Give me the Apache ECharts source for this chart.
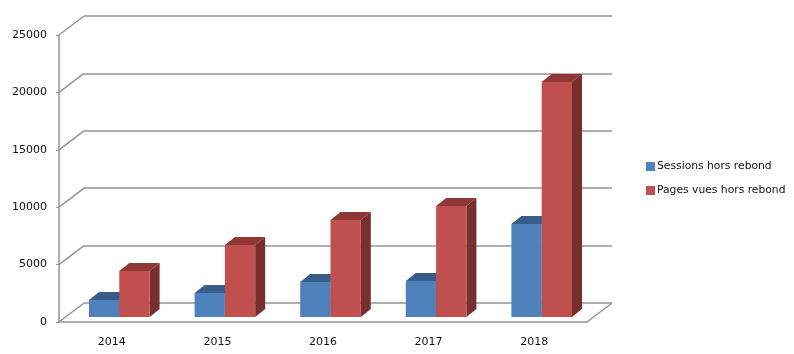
<!DOCTYPE html>
<html>
<head>
<meta charset="utf-8">
<title>Sessions et pages vues hors rebond</title>
<script src="https://cdn.jsdelivr.net/npm/echarts@6/dist/echarts.min.js"></script>
<style>
    html, body { margin: 0; padding: 0; background: #fff; }
    #chart { width: 794px; height: 354px; }
</style>
</head>
<body>
<div id="chart"></div>
<script>
var years = ['2014', '2015', '2016', '2017', '2018'];
var sessions = [1480, 2090, 3050, 3130, 8100];
var pagesVues = [4000, 6270, 8450, 9670, 20470];
var yTicks = [0, 5000, 10000, 15000, 20000, 25000];

var lineColor = '#949494';
var textColor = '#111';
var fontName = '"DejaVu Sans", sans-serif';

// depth of the fake 3d box, in px
var wallDx = 25, wallDy = -19;
var barDx = 7.5, barDy = -5;
var sideDx = 10, sideDy = -8;
var barWidth = 30.3;
var halfBand = 52.8;

function barRenderer(shift, front, top, side) {
    return function (params, api) {
        var p0 = api.coord([api.value(0), 0]);
        var p1 = api.coord([api.value(0), api.value(1)]);
        var x0 = p0[0] + barDx + shift;
        var x1 = x0 + barWidth;
        var yb = p0[1] + barDy;
        var yt = p1[1] + barDy;
        return {
            type: 'group',
            children: [
                { type: 'polygon', shape: { points: [[x1, yb], [x1 + sideDx, yb + sideDy], [x1 + sideDx, yt + sideDy], [x1, yt]] }, style: { fill: side } },
                { type: 'polygon', shape: { points: [[x0, yt], [x0 + sideDx, yt + sideDy], [x1 + sideDx, yt + sideDy], [x1, yt]] }, style: { fill: top } },
                { type: 'rect', shape: { x: x0, y: yt, width: barWidth, height: yb - yt }, style: { fill: front } }
            ]
        };
    };
}

function diagonalRenderer(params, api) {
    var left = api.coord([0, api.value(0)]);
    var x = left[0] - halfBand;
    var stroke = { stroke: lineColor, lineWidth: 1.5 };
    var children = [
        { type: 'line', shape: { x1: x, y1: left[1], x2: x + wallDx, y2: left[1] + wallDy }, style: stroke }
    ];
    // floor also closes on the right side
    if (api.value(0) === 0) {
        var right = api.coord([years.length - 1, 0]);
        children.push({ type: 'line', shape: { x1: right[0] + halfBand, y1: right[1], x2: right[0] + halfBand + wallDx, y2: right[1] + wallDy }, style: stroke });
    }
    return { type: 'group', children: children };
}

var myChart = echarts.init(document.getElementById('chart'));

var option = {
    animation: false,
    backgroundColor: '#fff',
    legend: {
        data: ['Sessions hors rebond', 'Pages vues hors rebond'],
        orient: 'vertical',
        left: 641,
        top: 156,
        itemWidth: 9,
        itemHeight: 9,
        itemGap: 13,
        icon: 'rect',
        selectedMode: false,
        textStyle: { fontFamily: fontName, fontSize: 10.75, color: textColor, padding: [0, 0, 0, -3] }
    },
    grid: [
        { left: 59, top: 35, width: 528, height: 287 },
        { left: 84, top: 16, width: 528, height: 287 }
    ],
    xAxis: [
        {
            type: 'category',
            gridIndex: 0,
            data: years,
            axisLine: { lineStyle: { color: lineColor, width: 1.5 } },
            axisTick: { length: 5, lineStyle: { color: lineColor } },
            axisLabel: { fontFamily: fontName, fontSize: 11, color: textColor, margin: 15 }
        },
        {
            type: 'category',
            gridIndex: 1,
            data: years,
            show: false
        }
    ],
    yAxis: [
        {
            type: 'value',
            gridIndex: 0,
            min: 0,
            max: 25000,
            interval: 5000,
            axisLine: { show: true, lineStyle: { color: lineColor, width: 1.5 } },
            axisTick: { show: true, length: 3, lineStyle: { color: lineColor } },
            axisLabel: {
                fontFamily: fontName,
                fontSize: 11,
                color: textColor,
                margin: 12,
                padding: [5, 0, 0, 0],
                formatter: function (v) { return String(v); }
            },
            splitLine: { show: false }
        },
        {
            type: 'value',
            gridIndex: 1,
            min: 0,
            max: 25000,
            interval: 5000,
            axisLine: { show: false },
            axisTick: { show: false },
            axisLabel: { show: false },
            splitLine: { show: true, lineStyle: { color: lineColor, width: 1.5 } }
        }
    ],
    series: [
        {
            name: 'diagonales',
            type: 'custom',
            xAxisIndex: 0,
            yAxisIndex: 0,
            silent: true,
            clip: false,
            data: yTicks.map(function (v) { return [v]; }),
            encode: { y: 0 },
            renderItem: diagonalRenderer
        },
        {
            name: 'Sessions hors rebond',
            type: 'custom',
            xAxisIndex: 0,
            yAxisIndex: 0,
            z: 3,
            clip: false,
            itemStyle: { color: '#4f81bd' },
            data: sessions.map(function (v, i) { return [i, v]; }),
            encode: { x: 0, y: 1 },
            renderItem: barRenderer(-30.3, '#4f81bd', '#385d8a', '#2f4f76')
        },
        {
            name: 'Pages vues hors rebond',
            type: 'custom',
            xAxisIndex: 0,
            yAxisIndex: 0,
            z: 4,
            clip: false,
            itemStyle: { color: '#c0504d' },
            data: pagesVues.map(function (v, i) { return [i, v]; }),
            encode: { x: 0, y: 1 },
            renderItem: barRenderer(0, '#c0504d', '#8f3836', '#772f2d')
        }
    ]
};

myChart.setOption(option);
</script>
</body>
</html>
